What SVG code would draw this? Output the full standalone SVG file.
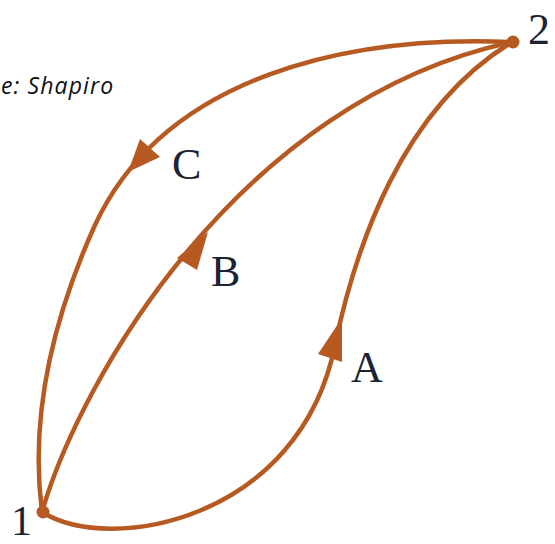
<svg xmlns="http://www.w3.org/2000/svg" width="555" height="544" viewBox="0 0 555 544">
<style>
.edge{fill:none;stroke:#b65a22;stroke-width:4.5;stroke-linecap:round}
.head{fill:#b65a22}
.lbl{font-family:"Liberation Serif","Times New Roman",serif;font-size:44px;fill:#1c2333}
.src{font-family:"Open Sans","Liberation Sans",sans-serif;font-style:italic;font-size:23px;letter-spacing:1.1px;fill:#111}
</style>
<rect width="555" height="544" fill="#fff"/>
<text class="src" x="1" y="94">e: Shapiro</text>
<g id="connectors">
<g id="edge-C">
<path class="edge" d="M512,42 C350,35 165,75 95,225 C50,325 30,420 42,512"/>
<polygon class="head" points="128,172 140,139 160,157"/>
</g>
<g id="edge-B">
<path class="edge" d="M42,512 C80,380 240,100 512,42"/>
<polygon class="head" points="208,232 177,258 197,270"/>
</g>
<g id="edge-A">
<path class="edge" d="M42,512 C110,555 300,520 335,345 C355,250 400,110 512,42"/>
<polygon class="head" points="342,318 318,354 342,362"/>
</g>
</g>
<g id="node-2">
<circle cx="513" cy="42" r="6.5" fill="#b65a22"/>
<text class="lbl" x="528" y="44">2</text>
</g>
<g id="node-1">
<circle cx="43" cy="512" r="6.5" fill="#b65a22"/>
<text class="lbl" x="11" y="535" style="font-size:42px">1</text>
</g>
<g id="label-C"><text class="lbl" x="172" y="179">C</text></g>
<g id="label-B"><text class="lbl" x="211" y="286">B</text></g>
<g id="label-A"><text class="lbl" x="351" y="382">A</text></g>
</svg>
